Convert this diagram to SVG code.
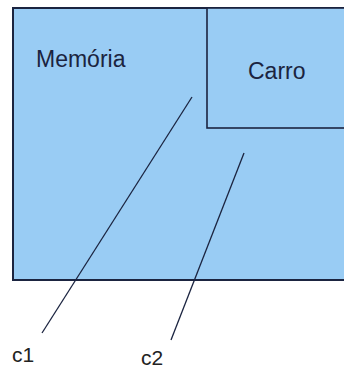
<svg xmlns="http://www.w3.org/2000/svg" width="344" height="370" viewBox="0 0 344 370">
<style>
.box{fill:#99ccf4;stroke:#1b2440;stroke-width:2}
.inner{fill:#99ccf4;stroke:#1b2440;stroke-width:1.6}
.lbl{font-family:"Liberation Sans",Arial,sans-serif;font-size:23px;fill:#1b2440}
.ref{font-family:"Liberation Sans",Arial,sans-serif;font-size:21px;fill:#222}
.conn{stroke:#1b2440;stroke-width:1.3;fill:none}
</style>
<rect width="344" height="370" fill="#ffffff"/>
<g id="memoria">
<rect class="box" x="13" y="8" width="340" height="272"/>
<text class="lbl" x="36" y="67">Memória</text>
</g>
<g id="carro">
<rect class="inner" x="207" y="8" width="150" height="120"/>
<text class="lbl" x="248" y="79">Carro</text>
</g>
<g id="connectors">
<line class="conn" x1="192" y1="97" x2="42" y2="333"/>
<line class="conn" x1="244" y1="153" x2="171" y2="340"/>
</g>
<g id="c1"><text class="ref" x="12" y="362">c1</text></g>
<g id="c2"><text class="ref" x="141" y="365">c2</text></g>
</svg>
